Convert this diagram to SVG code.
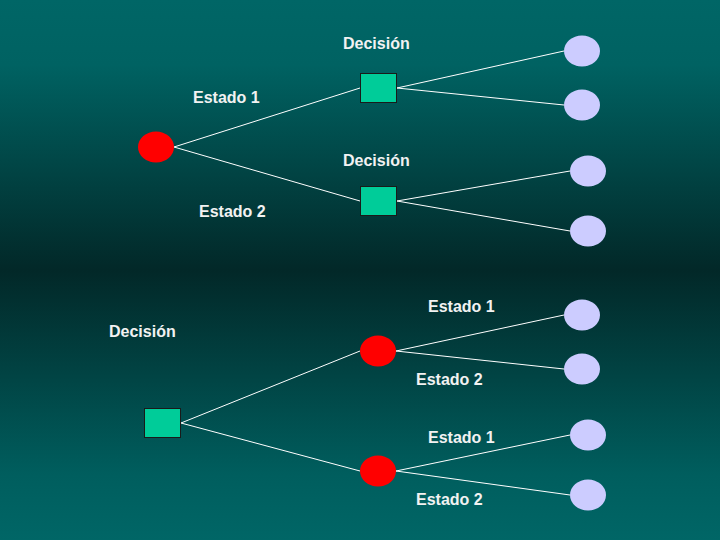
<svg xmlns="http://www.w3.org/2000/svg" width="720" height="540" viewBox="0 0 720 540">
<defs>
<linearGradient id="bg" x1="0" y1="0" x2="0" y2="1">
<stop offset="0" stop-color="#006666"/>
<stop offset="0.12" stop-color="#006262"/>
<stop offset="0.5" stop-color="#022828"/>
<stop offset="0.88" stop-color="#005e5e"/>
<stop offset="1" stop-color="#006666"/>
</linearGradient>
<style>
.lbl{font-family:"Liberation Sans",Arial,sans-serif;font-size:16px;font-weight:bold;fill:#f2f2f2}
.chance{fill:#ff0000}
.dec{fill:#00cc99;stroke:#1a1a1a;stroke-width:1}
.end{fill:#ccccff}
.edge{stroke:#ffffff;stroke-width:1;fill:none}
</style>
</defs>
<rect width="720" height="540" fill="url(#bg)"/>
<g id="connectors" class="edge">
<line x1="174" y1="147" x2="360" y2="88"/>
<line x1="174" y1="147" x2="360" y2="201"/>
<line x1="397" y1="88" x2="564" y2="51"/>
<line x1="397" y1="88" x2="564" y2="105"/>
<line x1="397" y1="201" x2="570" y2="171"/>
<line x1="397" y1="201" x2="570" y2="231"/>
<line x1="181" y1="423" x2="360" y2="351"/>
<line x1="181" y1="423" x2="360" y2="471"/>
<line x1="396" y1="351" x2="564" y2="315"/>
<line x1="396" y1="351" x2="564" y2="369"/>
<line x1="396" y1="471" x2="570" y2="435"/>
<line x1="396" y1="471" x2="570" y2="495"/>
</g>
<g id="chance-top"><ellipse class="chance" cx="156" cy="147" rx="18" ry="15.5"/></g>
<g id="decision-top1"><rect class="dec" x="360.5" y="73.5" width="36" height="29"/></g>
<g id="decision-top2"><rect class="dec" x="360.5" y="186.5" width="36" height="29"/></g>
<g id="end1"><ellipse class="end" cx="582" cy="51" rx="18" ry="15.5"/></g>
<g id="end2"><ellipse class="end" cx="582" cy="105" rx="18" ry="15.5"/></g>
<g id="end3"><ellipse class="end" cx="588" cy="171" rx="18" ry="15.5"/></g>
<g id="end4"><ellipse class="end" cx="588" cy="231" rx="18" ry="15.5"/></g>
<g id="decision-bottom"><rect class="dec" x="144.5" y="408.5" width="36" height="29"/></g>
<g id="chance-bottom1"><ellipse class="chance" cx="378" cy="351" rx="18" ry="15.5"/></g>
<g id="chance-bottom2"><ellipse class="chance" cx="378" cy="471" rx="18" ry="15.5"/></g>
<g id="end5"><ellipse class="end" cx="582" cy="315" rx="18" ry="15.5"/></g>
<g id="end6"><ellipse class="end" cx="582" cy="369" rx="18" ry="15.5"/></g>
<g id="end7"><ellipse class="end" cx="588" cy="435" rx="18" ry="15.5"/></g>
<g id="end8"><ellipse class="end" cx="588" cy="495" rx="18" ry="15.5"/></g>
<g id="labels">
<text class="lbl" x="343" y="49">Decisión</text>
<text class="lbl" x="193" y="103">Estado 1</text>
<text class="lbl" x="343" y="166">Decisión</text>
<text class="lbl" x="199" y="217">Estado 2</text>
<text class="lbl" x="109" y="337">Decisión</text>
<text class="lbl" x="428" y="312">Estado 1</text>
<text class="lbl" x="416" y="385">Estado 2</text>
<text class="lbl" x="428" y="443">Estado 1</text>
<text class="lbl" x="416" y="505">Estado 2</text>
</g>
</svg>
